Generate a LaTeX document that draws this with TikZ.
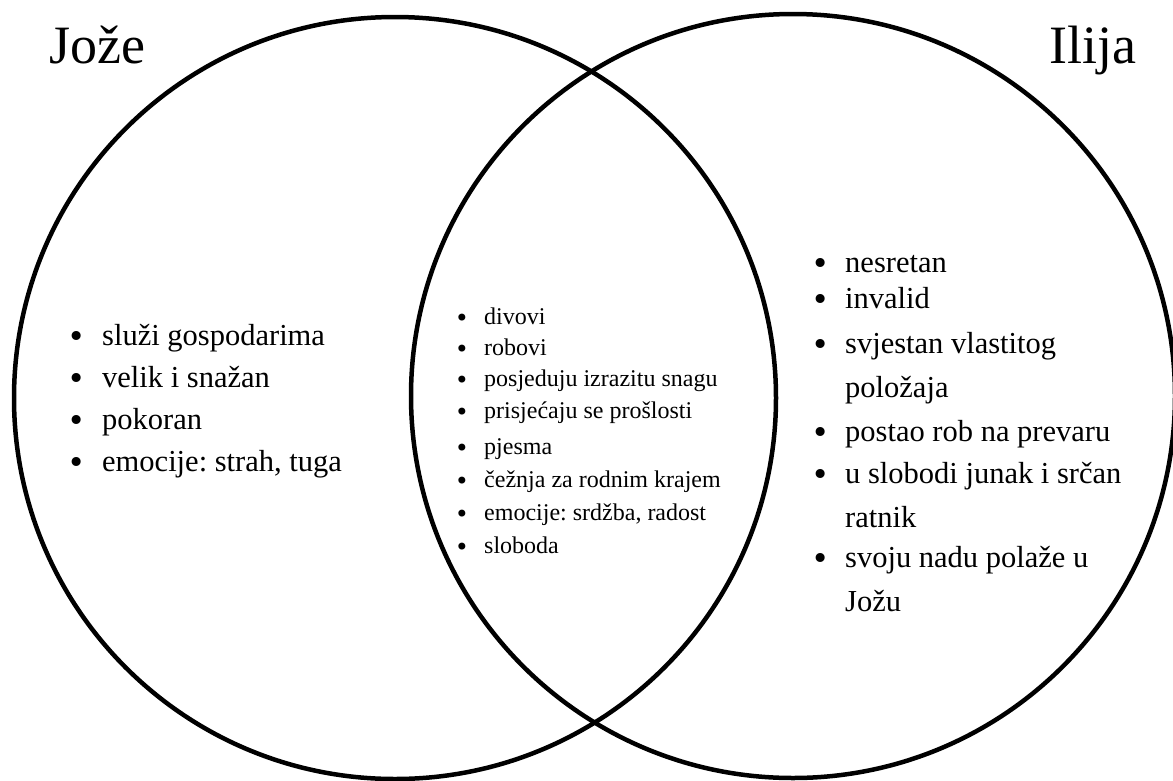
\documentclass[tikz,border=0pt]{standalone}
\usepackage{fontspec}
\setmainfont{Liberation Serif}
\newfontfamily\bulfont{DejaVu Sans}
\frenchspacing
\begin{document}
\begin{tikzpicture}[x=1pt,y=-1pt,
  ring/.style={circle,draw=black,line width=4.5pt,inner sep=0pt},
  title/.style={font=\fontsize{54}{60}\selectfont,anchor=base west,inner sep=0pt},
  big/.style={font=\fontsize{30.5}{36}\selectfont,anchor=mid west,inner sep=0pt},
  bigb/.style={font=\bulfont\fontsize{31}{36}\selectfont,anchor=mid,inner sep=0pt,yshift=-2.5pt},
  small/.style={font=\fontsize{24}{28}\selectfont,anchor=mid west,inner sep=0pt},
  smallb/.style={font=\bulfont\fontsize{24}{28}\selectfont,anchor=mid,inner sep=0pt,yshift=-2pt}]
\useasboundingbox[fill=white] (0,0) rectangle (1173,780);
\node[ring,minimum size=762pt] (jc) at (395,398) {};
\node[ring,minimum size=764pt] (ic) at (793,396) {};
\node[title] (jt) at (49,63) {Jože};
\node[title] (it) at (1049,63) {Ilija};
% left list
\node[bigb] (jb1) at (77,343) {•}; \node[big] (j1) at (102,343) {služi gospodarima};
\node[bigb] (jb2) at (77,385) {•}; \node[big] (j2) at (102,385) {velik i snažan};
\node[bigb] (jb3) at (77,427) {•}; \node[big] (j3) at (102,427) {pokoran};
\node[bigb] (jb4) at (77,469) {•}; \node[big] (j4) at (102,469) {emocije: strah, tuga};
% center list
\node[smallb] (cb1) at (462,322) {•}; \node[small] (c1) at (484,322) {divovi};
\node[smallb] (cb2) at (462,353) {•}; \node[small] (c2) at (484,353) {robovi};
\node[smallb] (cb3) at (462,384) {•}; \node[small] (c3) at (484,384) {posjeduju izrazitu snagu};
\node[smallb] (cb4) at (462,416) {•}; \node[small] (c4) at (484,416) {prisjećaju se prošlosti};
\node[smallb] (cb5) at (462,452) {•}; \node[small] (c5) at (484,452) {pjesma};
\node[smallb] (cb6) at (462,485) {•}; \node[small] (c6) at (484,485) {čežnja za rodnim krajem};
\node[smallb] (cb7) at (462,518) {•}; \node[small] (c7) at (484,518) {emocije: srdžba, radost};
\node[smallb] (cb8) at (462,551) {•}; \node[small] (c8) at (484,551) {sloboda};
% right list
\node[bigb] (ib1) at (821,270) {•}; \node[big] (i1) at (845,270) {nesretan};
\node[bigb] (ib2) at (821,306) {•}; \node[big] (i2) at (845,306) {invalid};
\node[bigb] (ib3) at (821,351) {•}; \node[big] (i3) at (845,351) {svjestan vlastitog};
\node[big] (i3b) at (845,395) {položaja};
\node[bigb] (ib4) at (821,439) {•}; \node[big] (i4) at (845,439) {postao rob na prevaru};
\node[bigb] (ib5) at (821,481) {•}; \node[big] (i5) at (845,481) {u slobodi junak i srčan};
\node[big] (i5b) at (845,525) {ratnik};
\node[bigb] (ib6) at (821,565) {•}; \node[big] (i6) at (845,565) {svoju nadu polaže u};
\node[big] (i6b) at (845,609) {Jožu};
\end{tikzpicture}
\end{document}
